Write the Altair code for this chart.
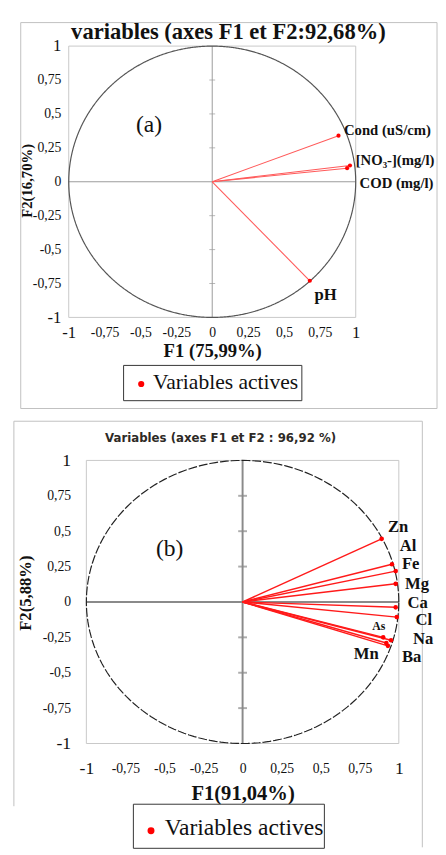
import altair as alt
import pandas as pd

# ---------------- data ----------------
TICKS = [-1, -0.75, -0.5, -0.25, 0, 0.25, 0.5, 0.75, 1]
INNER_TICKS = [-0.75, -0.5, -0.25, 0.25, 0.5, 0.75]
LEGEND_LABEL = "Variables actives"

# panel (a)
A_TITLE = "variables (axes F1 et F2:92,68%)"
A_XTITLE = "F1 (75,99%)"
A_YTITLE = "F2(16,70%)"
A_VARS = ["Cond (uS/cm)", "[NO₃-](mg/l)", "COD (mg/l)", "pH"]
A_F1 = [0.88, 0.96, 0.94, 0.68]
A_F2 = [0.34, 0.12, 0.10, -0.73]
A_LX = [0.918, 1.0, 1.027, 0.713]
A_LY = [0.379, 0.162, -0.01, -0.834]
A_LSIZE = [15, 15, 15, 17]

# panel (b)
B_TITLE = "Variables (axes F1 et F2 : 96,92 %)"
B_XTITLE = "F1(91,04%)"
B_YTITLE = "F2(5,88%)"
B_VARS = ["Zn", "Al", "Fe", "Mg", "Ca", "Cl", "As", "Na", "Mn", "Ba"]
B_F1 = [0.89, 0.956, 0.98, 0.98, 0.98, 0.987, 0.90, 0.95, 0.92, 0.93]
B_F2 = [0.446, 0.266, 0.218, 0.128, -0.038, -0.107, -0.25, -0.27, -0.29, -0.31]
B_LX = [0.93, 1.006, 1.02, 1.04, 1.056, 1.107, 0.83, 1.09, 0.712, 1.02]
B_LY = [0.53, 0.395, 0.265, 0.125, -0.01, -0.13, -0.17, -0.26, -0.37, -0.39]
B_LSIZE = [17, 17, 17, 17, 17, 17, 12, 17, 17, 17]

SERIF = "Liberation Serif"
SANS = "DejaVu Sans"
LABEL_EXPR = "replace(toString(datum.value), '.', ',')"


def make_panel(cfg):
    df = pd.DataFrame({
        "var": cfg["vars"], "f1": cfg["f1"], "f2": cfg["f2"],
        "lx": cfg["lx"], "ly": cfg["ly"], "fs": cfg["lsize"],
    })
    sx = alt.Scale(domain=[-1, 1], range=cfg["xrange"], nice=False, zero=False)
    sy = alt.Scale(domain=[-1, 1], range=cfg["yrange"], nice=False, zero=False)
    fs_expr = alt.ExprRef(expr=f"abs(datum.value) == 1 ? {cfg['big']} : {cfg['small']}")
    ax_x = alt.Axis(
        values=TICKS, labelExpr=LABEL_EXPR, ticks=False, domain=False, grid=False,
        offset=cfg["xoffset"],
        labelFont=SERIF, labelColor="#111", labelFontSize=fs_expr,
        labelBaseline="middle", labelPadding=cfg["xlabpad"], labelFlush=False, labelOverlap=False,
        title=cfg["xtitle"], titleFont=SERIF, titleFontWeight="bold",
        titleFontSize=cfg["xtitlesize"], titleColor="#111",
        titleBaseline="middle", titleY=cfg["xtitley"],
    )
    ax_y = alt.Axis(
        values=TICKS, labelExpr=LABEL_EXPR, ticks=False, domain=False, grid=False,
        offset=cfg["yoffset"],
        labelFont=SERIF, labelColor="#111", labelFontSize=fs_expr,
        labelPadding=cfg["ylabpad"], labelFlush=False, labelOverlap=False,
        title=cfg["ytitle"], titleFont=SERIF, titleFontWeight="bold",
        titleFontSize=cfg["ytitlesize"], titleColor="#111",
        titleAngle=270, titleAlign="center", titleBaseline="middle",
        titleX=cfg["ytitlex"], titleY=cfg["ytitley"],
    )

    def X(f):
        return alt.X(f, type="quantitative", scale=sx, axis=ax_x)

    def Y(f):
        return alt.Y(f, type="quantitative", scale=sy, axis=ax_y)

    box = pd.DataFrame({"z": [0], "lo": [-1], "hi": [1]})
    frame = alt.Chart(box).mark_rect(fillOpacity=0, stroke="#c8c8c8", strokeWidth=1).encode(
        x=X("lo"), x2="hi", y=Y("lo"), y2="hi")
    vline = alt.Chart(box).mark_rule(color=cfg["zcolor"], strokeWidth=cfg["zwidth"]).encode(
        x=X("z"), y=Y("lo"), y2="hi")
    hline = alt.Chart(box).mark_rule(color=cfg["zcolor"], strokeWidth=cfg["zwidth"]).encode(
        y=Y("z"), x=X("lo"), x2="hi")
    tdf = pd.DataFrame({"t": INNER_TICKS, "z": 0})
    ticks = alt.Chart(tdf).mark_tick(orient="horizontal", size=cfg["ticklen"],
                                     thickness=cfg["zwidth"], color=cfg["zcolor"]).encode(
        x=X("z"), y=Y("t"))

    circle = alt.Chart(alt.sequence(0, 361, 2, as_="deg")).transform_calculate(
        cx="cos(datum.deg * PI / 180)", cy="sin(datum.deg * PI / 180)"
    ).mark_line(color=cfg["ccolor"], strokeWidth=1.2, strokeDash=cfg["cdash"]).encode(
        x=X("cx"), y=Y("cy"), order="deg:Q")

    vec = alt.Chart(df).transform_calculate(o="0").mark_rule(
        color=cfg["vcolor"], strokeWidth=cfg["vwidth"]).encode(
        x=X("o"), y=Y("o"), x2="f1", y2="f2")
    pts = alt.Chart(df).mark_circle(size=cfg["psize"], opacity=1, color="#ff0000").encode(
        x=X("f1"), y=Y("f2"))
    labels = alt.Chart(df).mark_text(align="left", baseline="middle", font=SERIF,
                                     fontWeight="bold", color="#111").encode(
        x=X("lx"), y=Y("ly"), text="var:N", size=alt.Size("fs:Q", scale=None, legend=None))
    tag = alt.Chart(pd.DataFrame({"t": [cfg["tag"]], "x": [cfg["tagx"]], "y": [cfg["tagy"]]})).mark_text(
        font=SERIF, fontSize=24, color="#111").encode(x=X("x"), y=Y("y"), text="t:N")

    one = pd.DataFrame({"k": [0]})
    frames = []
    for (x1, x2, y1, y2, col) in cfg["frame"]:
        frames.append(alt.Chart(one).mark_rule(color=col, strokeWidth=1).encode(
            x=alt.value(x1), x2=alt.value(x2), y=alt.value(y1), y2=alt.value(y2)))

    # legend box: "Variables actives"
    leg = [alt.Chart(one).mark_rule(color="#333", strokeWidth=1).encode(
        x=alt.value(a), x2=alt.value(b), y=alt.value(c), y2=alt.value(d))
        for (a, b, c, d) in cfg["legsides"]]
    leg_dot = alt.Chart(one).mark_circle(size=cfg["legsym"], opacity=1, color="#ff0000").encode(
        x=alt.value(cfg["legdot"][0]), y=alt.value(cfg["legdot"][1]))
    leg_txt = alt.Chart(pd.DataFrame({"t": [LEGEND_LABEL]})).mark_text(
        align="left", baseline="middle", font=SERIF, fontSize=cfg["legfont"], color="#111").encode(
        x=alt.value(cfg["legtext"][0]), y=alt.value(cfg["legtext"][1]), text="t:N")

    layer = alt.layer(*frames, frame, hline, vline, ticks, circle, vec, pts, labels, tag,
                      *leg, leg_dot, leg_txt).properties(
        width=cfg["w"], height=cfg["h"],
        title=alt.TitleParams(text=cfg["title"], font=cfg["tfont"], fontSize=cfg["tsize"],
                              fontWeight="bold", color=cfg["tcolor"], anchor="middle",
                              frame="group", dx=cfg["tdx"], offset=cfg["toff"]))
    return layer


cfg_a = dict(
    vars=A_VARS, f1=A_F1, f2=A_F2, lx=A_LX, ly=A_LY, lsize=A_LSIZE,
    w=432, h=394, xrange=[56, 349], yrange=[301, 24],
    xoffset=-93, yoffset=-56,
    big=17, small=14, xlabpad=16, ylabpad=8,
    xtitle=A_XTITLE, xtitlesize=19, xtitley=34,
    ytitle=A_YTITLE, ytitlesize=15, ytitlex=-43, ytitley=161,
    zcolor="#9a9a9a", zwidth=1, ticklen=6, ccolor="#555", cdash=[1, 0],
    vcolor="#ff5a5a", vwidth=1.1, psize=18,
    legsides=[(112, 112, 350, 386), (294, 294, 350, 386), (112, 294, 350, 350), (112, 294, 386, 386)],
    legdot=(130, 369), legtext=(142, 367), legfont=22, legsym=40,
    tag="(a)", tagx=-0.44, tagy=0.415,
    frame=[(0, 0, 0, 4, "white"),
           (7, 7, 0, 394, "#c0c0c0"), (432, 432, 0, 394, "#c0c0c0"),
           (7, 432, 0, 0, "#c0c0c0"), (7, 432, 394, 394, "#c0c0c0")],
    title=A_TITLE, tfont=SERIF, tsize=23, tcolor="#111", tdx=3, toff=-22,
)
cfg_b = dict(
    vars=B_VARS, f1=B_F1, f2=B_F2, lx=B_LX, ly=B_LY, lsize=B_LSIZE,
    w=432, h=435, xrange=[74, 393], yrange=[329, 40],
    xoffset=-106, yoffset=-74,
    big=18, small=14, xlabpad=26, ylabpad=16,
    xtitle=B_XTITLE, xtitlesize=21, xtitley=51,
    ytitle=B_YTITLE, ytitlesize=17, ytitlex=-62, ytitley=175,
    zcolor="#8a8a8a", zwidth=2, ticklen=9, ccolor="#222", cdash=[9, 2],
    vcolor="#ff1a1a", vwidth=1.5, psize=22,
    legsides=[(122, 122, 391, 436), (317, 317, 391, 436), (122, 317, 391, 391), (122, 317, 436, 436)],
    legdot=(140, 418), legtext=(154, 415), legfont=24, legsym=50,
    tag="(b)", tagx=-0.467, tagy=0.37,
    frame=[(0, 0, 0, 393, "#c0c0c0"), (417, 417, 0, 435, "#c0c0c0"),
           (0, 417, 0, 0, "#c0c0c0")],
    title=B_TITLE, tfont=SANS, tsize=12, tcolor="#2e2a26", tdx=-5, toff=-25,
)

pa = make_panel(cfg_a)
pb = make_panel(cfg_b)

chart = alt.vconcat(pa, pb, spacing=11).resolve_scale(
    x="independent", y="independent", size="independent"
).properties(
    padding={"left": 5, "top": 4, "right": 0, "bottom": 0}
).configure_view(strokeWidth=0)

chart.save("out.html", embed_options={"renderer": "svg", "actions": False})
